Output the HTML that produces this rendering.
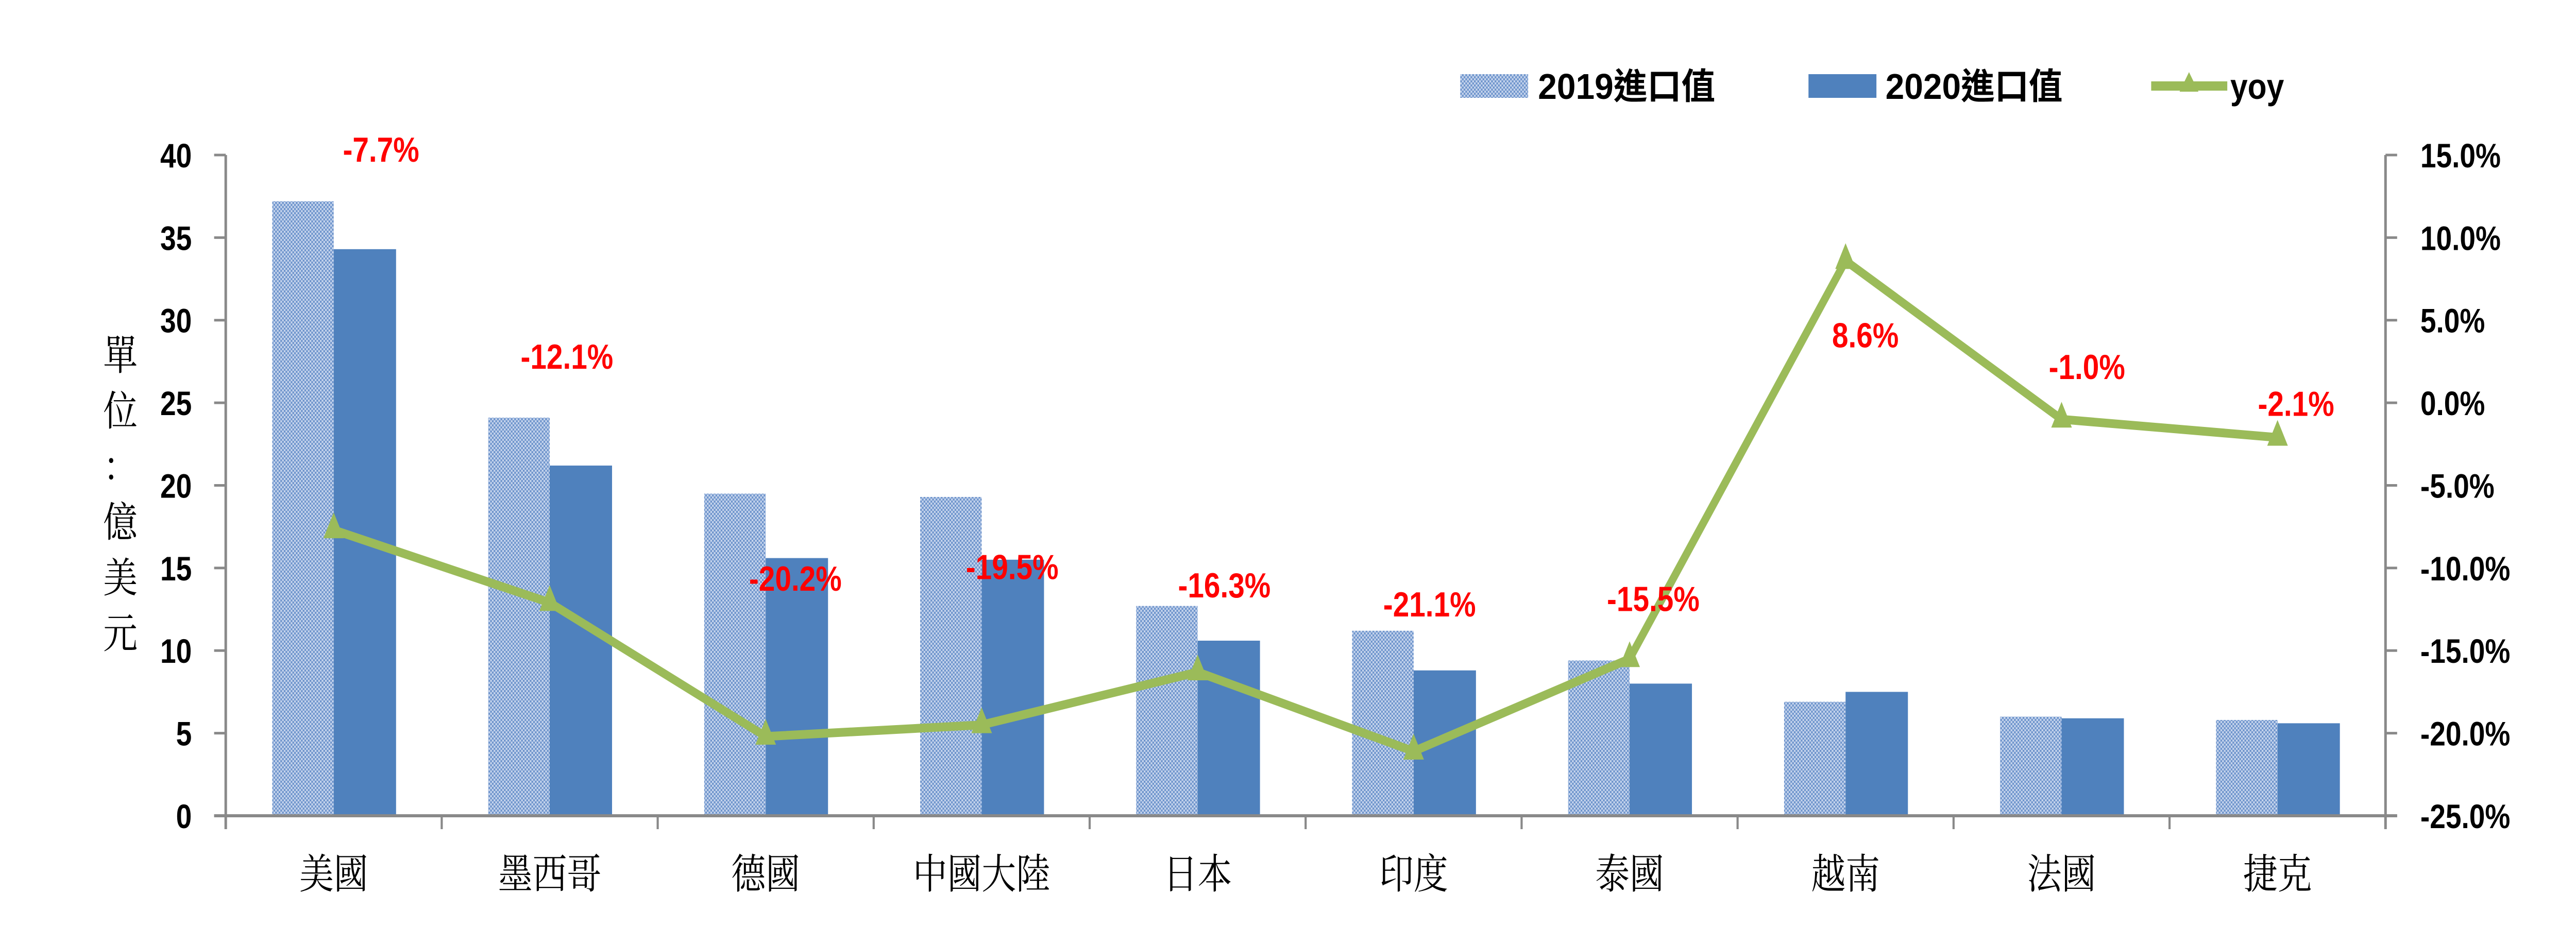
<!DOCTYPE html>
<html><head><meta charset="utf-8">
<meta name="viewport" content="width=5991">
<style>
html,body{margin:0;padding:0;background:#fff;width:100%;height:100%;overflow:hidden;}
svg{display:block;width:100vw;height:100vh;}
.tick{font-family:"Liberation Sans",sans-serif;font-weight:bold;font-size:66px;fill:#000;}
.cat{font-family:"Liberation Serif","Noto Serif CJK SC",serif;font-size:80px;fill:#000;}
.lbl{font-family:"Liberation Sans",sans-serif;font-weight:bold;font-size:68px;fill:#ff0000;}
.leg{font-family:"Liberation Sans","Noto Sans CJK TC",sans-serif;font-weight:bold;font-size:70px;fill:#000;}
</style></head>
<body>
<svg id="chart" xmlns="http://www.w3.org/2000/svg" viewBox="0 0 5991 1800" preserveAspectRatio="none">
<defs>
<pattern id="p2019" width="8" height="8" patternUnits="userSpaceOnUse">
<rect width="8" height="8" fill="#c4d3ec"/>
<rect width="4" height="4" fill="#6f95cc"/>
<rect x="4" y="4" width="4" height="4" fill="#6f95cc"/>
</pattern>
</defs>
<g id="legend">
<g>
<rect x="3396" y="144" width="158" height="46" fill="url(#p2019)"/>
<text class="leg" x="3577" y="192" textLength="412" lengthAdjust="spacingAndGlyphs">2019進口值</text>
</g>
<g>
<rect x="4206" y="144" width="158" height="46" fill="#4f81bd"/>
<text class="leg" x="4385" y="192" textLength="412" lengthAdjust="spacingAndGlyphs">2020進口值</text>
</g>
<g>
<line x1="5003" y1="167" x2="5180" y2="167" stroke="#9bbb59" stroke-width="18"/>
<polygon points="5091,140 5113,178 5069,178" fill="#9bbb59"/>
<text class="leg" x="5187" y="192" textLength="125" lengthAdjust="spacingAndGlyphs">yoy</text>
</g>
</g>
<text class="cat" font-size="82" text-anchor="middle">
<tspan x="280" y="718">單</tspan><tspan x="280" y="826">位</tspan><tspan x="280" y="934">：</tspan><tspan x="280" y="1042">億</tspan><tspan x="280" y="1150">美</tspan><tspan x="280" y="1258">元</tspan>
</text>
<g id="bars"></g>
<g id="axes"></g>
<g id="line"></g>
<g id="labels"></g>
</svg>
<script>
const categories = ["美國","墨西哥","德國","中國大陸","日本","印度","泰國","越南","法國","捷克"];
const imports2019 = [37.2, 24.1, 19.5, 19.3, 12.7, 11.2, 9.4, 6.9, 6.0, 5.8];
const imports2020 = [34.3, 21.2, 15.6, 15.5, 10.6, 8.8, 8.0, 7.5, 5.9, 5.6];
const yoy = [-7.7, -12.1, -20.2, -19.5, -16.3, -21.1, -15.5, 8.6, -1.0, -2.1];
const yoyLabels = ["-7.7%","-12.1%","-20.2%","-19.5%","-16.3%","-21.1%","-15.5%","8.6%","-1.0%","-2.1%"];
const leftTicks = [0,5,10,15,20,25,30,35,40];
const rightTicks = ["15.0%","10.0%","5.0%","0.0%","-5.0%","-10.0%","-15.0%","-20.0%","-25.0%"];
const rightTickValues = [15,10,5,0,-5,-10,-15,-20,-25];

const NS = "http://www.w3.org/2000/svg";
const X0 = 525, X1 = 5548, Y0 = 1584, Y1 = 301;
const catW = (X1 - X0) / categories.length;
function xc(i){ return X0 + catW * (i + 0.5); }
function yl(v){ return Y0 - (v - 0) / 40 * (Y0 - Y1); }
function yr(v){ return Y0 - (v + 25) / 40 * (Y0 - Y1); }
function mk(tag, attrs, parent){ const e = document.createElementNS(NS, tag); for (const k in attrs) e.setAttribute(k, attrs[k]); parent.appendChild(e); return e; }

const bars = document.getElementById('bars');
const axes = document.getElementById('axes');
const lineG = document.getElementById('line');
const labels = document.getElementById('labels');
const bw = 143;
categories.forEach((c, i) => {
  const cx = xc(i);
  const r1 = mk('rect', {x: cx - bw, y: yl(imports2019[i]), width: bw, height: Y0 - yl(imports2019[i]), fill: 'url(#p2019)'}, bars);
  
  
  const r2 = mk('rect', {x: cx, y: yl(imports2020[i]), width: bw + 2, height: Y0 - yl(imports2020[i]), fill: '#4f81bd'}, bars);
  
  
  const t = mk('text', {x: cx, y: 1725, 'text-anchor': 'middle', class: 'cat'}, axes);
  t.textContent = c;
  
  
});
const gray = '#898989';
const la = mk('line', {x1: X0, y1: Y1, x2: X0, y2: Y0 + 26, stroke: gray, 'stroke-width': 6}, axes);


const ra = mk('line', {x1: X1, y1: Y1, x2: X1, y2: Y0 + 26, stroke: gray, 'stroke-width': 6}, axes);


const xa = mk('line', {x1: X0 - 27, y1: Y0, x2: X1 + 27, y2: Y0, stroke: gray, 'stroke-width': 6}, axes);


for (let i = 1; i < categories.length; i++) {
  const tk = mk('line', {x1: X0 + catW * i, y1: Y0, x2: X0 + catW * i, y2: Y0 + 26, stroke: gray, 'stroke-width': 5}, axes);
  
  
}
leftTicks.forEach(v => {
  const y = yl(v);
  mk('line', {x1: X0 - 27, y1: y, x2: X0, y2: y, stroke: gray, 'stroke-width': 5}, axes);
  const t = mk('text', {x: 446, y: y + 24, 'text-anchor': 'end', class: 'tick'}, axes);
  t.textContent = v;
  
  
});
rightTickValues.forEach((v, i) => {
  const y = yr(v);
  mk('line', {x1: X1, y1: y, x2: X1 + 27, y2: y, stroke: gray, 'stroke-width': 5}, axes);
  const t = mk('text', {x: 5629, y: y + 24, class: 'tick'}, axes);
  t.textContent = rightTicks[i];
  
  
});
const pts = yoy.map((v, i) => xc(i) + ',' + yr(v)).join(' ');
const pl = mk('polyline', {points: pts, fill: 'none', stroke: '#9bbb59', 'stroke-width': 17, 'stroke-linejoin': 'miter'}, lineG);


yoy.forEach((v, i) => {
  const x = xc(i), y = yr(v);
  const m = mk('polygon', {points: (x) + ',' + (y - 34) + ' ' + (x + 24) + ',' + (y + 16) + ' ' + (x - 24) + ',' + (y + 16), fill: '#9bbb59'}, lineG);
  
  
});
const labelDx = [110, 40, 69, 71, 62, 37, 55, 46, 59, 43];
const labelDy = [-739, -478, -307, -307, -169, -286, -117, 144, -102, -66];
yoy.forEach((v, i) => {
  const t = mk('text', {x: xc(i) + labelDx[i], y: yr(v) + labelDy[i] + 24, 'text-anchor': 'middle', class: 'lbl'}, labels);
  t.textContent = yoyLabels[i];
  
  
});
</script>
</body></html>
